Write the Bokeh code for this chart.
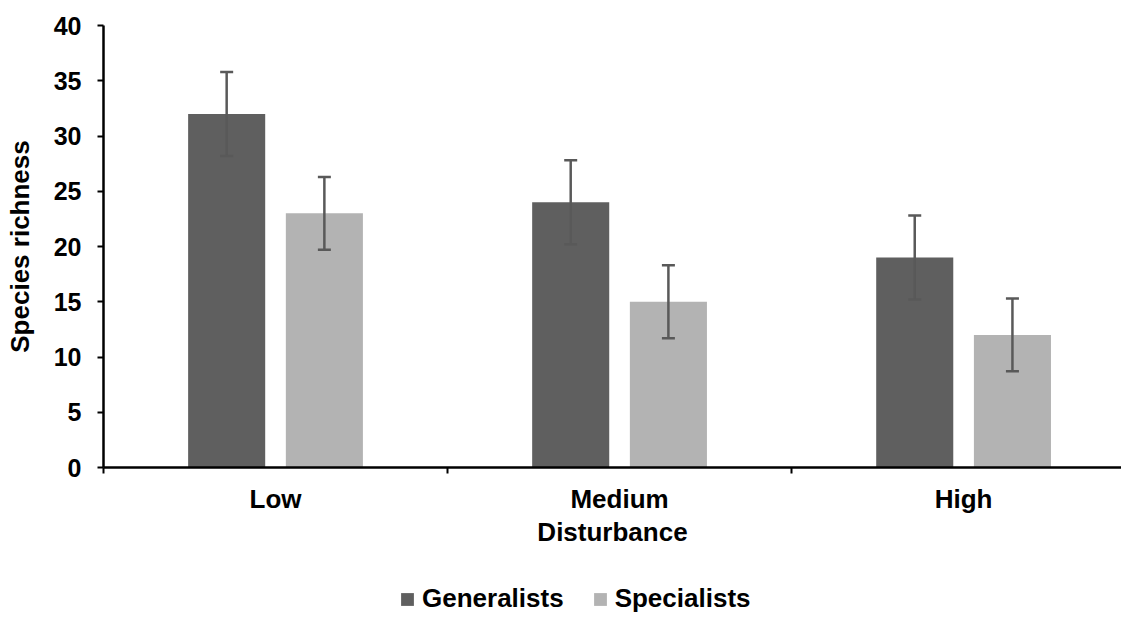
from bokeh.plotting import figure
from bokeh.layouts import column
from bokeh.models import (ColumnDataSource, FixedTicker, Whisker, Legend, LegendItem,
                          Range1d, TeeHead)
from bokeh.embed import file_html
from bokeh.resources import INLINE

# ---- data ----
categories = ["Low", "Medium", "High"]
generalists = [32, 24, 19]
specialists = [23, 15, 12]
generalists_err = [3.8, 3.8, 3.8]
specialists_err = [3.3, 3.3, 3.3]
y_ticks = [0, 5, 10, 15, 20, 25, 30, 35, 40]
x_title = "Disturbance"
y_title = "Species richness"
series_names = ["Generalists", "Specialists"]

# ---- styling ----
FONT = "Liberation Sans"
DARK = "#5f5f5f"
LIGHT = "#b3b3b3"
ERR = "#595959"
OFFSET = 0.142
BAR_W = 0.224

centers = [i + 0.5 for i in range(len(categories))]

gen_src = ColumnDataSource(dict(
    x=[c - OFFSET for c in centers], top=generalists,
    upper=[v + e for v, e in zip(generalists, generalists_err)],
    lower=[v - e for v, e in zip(generalists, generalists_err)]))
spe_src = ColumnDataSource(dict(
    x=[c + OFFSET for c in centers], top=specialists,
    upper=[v + e for v, e in zip(specialists, specialists_err)],
    lower=[v - e for v, e in zip(specialists, specialists_err)]))

p = figure(width=1121, height=554, output_backend="svg", toolbar_location=None,
           x_range=Range1d(0, 2.959), y_range=Range1d(0, 40),
           min_border_left=103, min_border_top=25, min_border_bottom=87,
           min_border_right=0)
p.outline_line_color = None
p.grid.visible = False
p.background_fill_color = "white"
p.border_fill_color = "white"

p.vbar(x="x", top="top", width=BAR_W, source=gen_src, fill_color=DARK, line_color=None)
p.vbar(x="x", top="top", width=BAR_W, source=spe_src, fill_color=LIGHT, line_color=None)

for src in (gen_src, spe_src):
    w = Whisker(base="x", upper="upper", lower="lower", source=src,
                line_color=ERR, line_width=2.5, level="overlay",
                upper_head=TeeHead(size=13, line_color=ERR, line_width=2.5),
                lower_head=TeeHead(size=13, line_color=ERR, line_width=2.5))
    p.add_layout(w)

# x axis
xa = p.xaxis[0]
xa.ticker = FixedTicker(ticks=centers, minor_ticks=[0, 1, 2, 3])
xa.major_label_overrides = {c: lab for c, lab in zip(centers, categories)}
xa.major_tick_out = 0
xa.major_tick_in = 0
xa.minor_tick_out = 6
xa.minor_tick_in = 0
xa.minor_tick_line_width = 2
xa.minor_tick_line_color = "black"
xa.axis_line_width = 2.5
xa.axis_line_color = "black"
xa.major_label_text_font = FONT
xa.major_label_text_font_style = "bold"
xa.major_label_text_font_size = "26px"
xa.major_label_text_color = "black"
xa.major_label_standoff = 10
xa.axis_label = x_title
xa.axis_label_text_font = FONT
xa.axis_label_text_font_style = "bold"
xa.axis_label_text_font_size = "26px"
xa.axis_label_text_color = "black"
xa.axis_label_standoff = 0

# y axis
ya = p.yaxis[0]
ya.ticker = FixedTicker(ticks=y_ticks)
ya.major_tick_out = 6
ya.major_tick_in = 0
ya.major_tick_line_width = 2
ya.major_tick_line_color = "black"
ya.minor_tick_out = 0
ya.minor_tick_in = 0
ya.axis_line_width = 2.5
ya.axis_line_color = "black"
ya.major_label_text_font = FONT
ya.major_label_text_font_style = "bold"
ya.major_label_text_font_size = "25px"
ya.major_label_text_color = "black"
ya.major_label_standoff = 16
ya.axis_label = y_title
ya.axis_label_text_font = FONT
ya.axis_label_text_font_style = "bold"
ya.axis_label_text_font_size = "26px"
ya.axis_label_text_color = "black"
ya.axis_label_standoff = 16

# ---- legend strip ----
lg = figure(width=1121, height=60, output_backend="svg", toolbar_location=None,
            x_range=Range1d(0, 1), y_range=Range1d(0, 1),
            x_axis_location=None, y_axis_location=None,
            min_border=0)
lg.outline_line_color = None
lg.grid.visible = False
# one off-screen point each, only so that the legend swatches get drawn
lr_gen = lg.vbar(x="x", top="top", width=0.1, source=ColumnDataSource(dict(x=[5], top=[0])),
                 fill_color=DARK, line_color=None)
lr_spe = lg.vbar(x="x", top="top", width=0.1, source=ColumnDataSource(dict(x=[5], top=[0])),
                 fill_color=LIGHT, line_color=None)

legend = Legend(items=[LegendItem(label=series_names[0], renderers=[lr_gen]),
                       LegendItem(label=series_names[1], renderers=[lr_spe])],
                orientation="horizontal", location=(296, 0),
                glyph_width=16, glyph_height=16, label_standoff=7, spacing=28,
                padding=0, margin=0, border_line_color=None,
                background_fill_alpha=0,
                label_text_font=FONT, label_text_font_style="bold",
                label_text_font_size="26px", label_text_color="black")
lg.add_layout(legend, "center")

layout = column(p, lg, spacing=0)
open("out.html", "w").write(file_html(layout, INLINE))
